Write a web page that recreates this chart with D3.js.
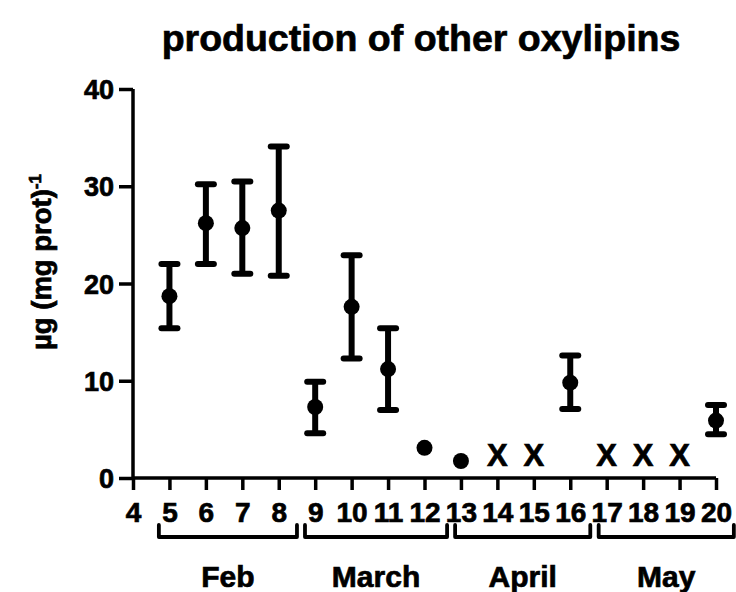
<!DOCTYPE html>
<html>
<head>
<meta charset="utf-8">
<script src="https://cdn.jsdelivr.net/npm/d3@7"></script>
<style>
  html, body { margin: 0; padding: 0; background: #fff; }
  svg { display: block; }
  text { font-family: "Liberation Sans", Arial, Helvetica, sans-serif; font-weight: bold; fill: #000;
         stroke: #000; stroke-width: 0.7px; paint-order: stroke; }
</style>
</head>
<body>
<svg id="chart" width="736" height="592"></svg>
<script>
// Sampling days with a measured mean and its error range
const detectedDays = [5, 6, 7, 8, 9, 10, 11, 12, 13, 16, 20];
const meanValues   = [18.7, 26.2, 25.7, 27.5, 7.3, 17.6, 11.2, 3.1, 1.75, 9.8, 5.9];
const upperValues  = [22.0, 30.2, 30.5, 34.1, 9.9, 22.9, 15.4, null, null, 12.6, 7.5];
const lowerValues  = [15.4, 22.0, 21.0, 20.8, 4.6, 12.3, 7.0, null, null, 7.1, 4.5];

// Days where nothing was detected, shown with an "X" just above the axis
const notDetectedDays = [14, 15, 17, 18, 19];
const notDetectedLevel = 2.4;

// Axis ticks
const xTickLabels = [4, 5, 6, 7, 8, 9, 10, 11, 12, 13, 14, 15, 16, 17, 18, 19, 20];
const yTickValues = [0, 10, 20, 30, 40];

// Month groupings under the day axis (extent in day units)
const monthNames = ["Feb", "March", "April", "May"];
const monthFrom  = [4.71, 8.72, 12.84, 16.78];
const monthTo    = [8.50, 12.62, 16.55, 20.49];

const svg = d3.select("#chart");

const x = d3.scaleLinear().domain([4, 20]).range([133, 716]);
const y = d3.scaleLinear().domain([0, 40]).range([478, 89]);

// Title
svg.append("text")
  .attr("x", 421).attr("y", 51)
  .attr("text-anchor", "middle")
  .style("font-size", "37.5px")
  .text("production of other oxylipins");

// Y axis
const yAxis = d3.axisLeft(y).tickValues(yTickValues).tickSize(14).tickPadding(5);
const gy = svg.append("g").attr("transform", `translate(${x(4)},0)`).call(yAxis);
gy.select(".domain").attr("d", `M0,${y(40)}V${y(0)}`);
gy.selectAll("path, line").attr("stroke", "#000").attr("stroke-width", 3.5);
gy.selectAll("text").style("font-size", "27px").attr("dy", "0.36em").attr("fill", "#000");

// X axis
const xAxis = d3.axisBottom(x).tickValues(xTickLabels).tickSize(12).tickPadding(7)
  .tickFormat(d3.format("d"));
const gx = svg.append("g").attr("transform", `translate(0,${y(0)})`).call(xAxis);
gx.select(".domain").attr("d", `M${x(4)},0H${x(20)}`);
gx.selectAll("path, line").attr("stroke", "#000").attr("stroke-width", 3.5);
gx.selectAll("text").style("font-size", "28px").attr("dy", "0.9em").attr("fill", "#000");

// Y axis title
const yTitle = svg.append("text")
  .attr("transform", `translate(51,${262}) rotate(-90)`)
  .attr("text-anchor", "middle")
  .style("font-size", "27.5px");
yTitle.append("tspan").text("\u00b5g (mg prot)");
yTitle.append("tspan").attr("dy", "-0.6em").style("font-size", "17px").text("-1");

// Error bars
const errData = detectedDays.map((d, i) => ({
  day: d, mean: meanValues[i], hi: upperValues[i], lo: lowerValues[i]
})).filter(d => d.hi != null);

const capHalf = 8;
const bars = svg.append("g").attr("stroke", "#000").attr("stroke-width", 6)
  .attr("stroke-linecap", "round");
bars.selectAll("line.stem").data(errData).join("line").attr("class", "stem")
  .attr("x1", d => x(d.day)).attr("x2", d => x(d.day))
  .attr("y1", d => y(d.hi)).attr("y2", d => y(d.lo))
  .attr("stroke-linecap", "butt");
bars.selectAll("line.cap-hi").data(errData).join("line").attr("class", "cap-hi")
  .attr("x1", d => x(d.day) - capHalf).attr("x2", d => x(d.day) + capHalf)
  .attr("y1", d => y(d.hi)).attr("y2", d => y(d.hi));
bars.selectAll("line.cap-lo").data(errData).join("line").attr("class", "cap-lo")
  .attr("x1", d => x(d.day) - capHalf).attr("x2", d => x(d.day) + capHalf)
  .attr("y1", d => y(d.lo)).attr("y2", d => y(d.lo));

// Mean points
svg.append("g").selectAll("circle")
  .data(detectedDays.map((d, i) => ({ day: d, mean: meanValues[i] })))
  .join("circle")
  .attr("cx", d => x(d.day)).attr("cy", d => y(d.mean))
  .attr("r", 8).attr("fill", "#000");

// Not-detected markers
svg.append("g").selectAll("text")
  .data(notDetectedDays)
  .join("text")
  .attr("x", d => x(d)).attr("y", y(notDetectedLevel))
  .attr("dy", "0.36em")
  .attr("text-anchor", "middle")
  .style("font-size", "31px")
  .text("X");

// Month brackets and labels
const months = monthNames.map((m, i) => ({ name: m, from: monthFrom[i], to: monthTo[i] }));
const bracketTop = 525, bracketBottom = 537;
svg.append("g").selectAll("path")
  .data(months)
  .join("path")
  .attr("fill", "none").attr("stroke", "#000").attr("stroke-width", 3.8)
  .attr("stroke-linejoin", "round").attr("stroke-linecap", "round")
  .attr("d", d => `M${x(d.from)},${bracketTop}V${bracketBottom}H${x(d.to)}V${bracketTop}`);

svg.append("g").selectAll("text")
  .data(months)
  .join("text")
  .attr("x", d => (x(d.from) + x(d.to)) / 2)
  .attr("y", 587)
  .attr("text-anchor", "middle")
  .style("font-size", "30px")
  .text(d => d.name);
</script>
</body>
</html>
